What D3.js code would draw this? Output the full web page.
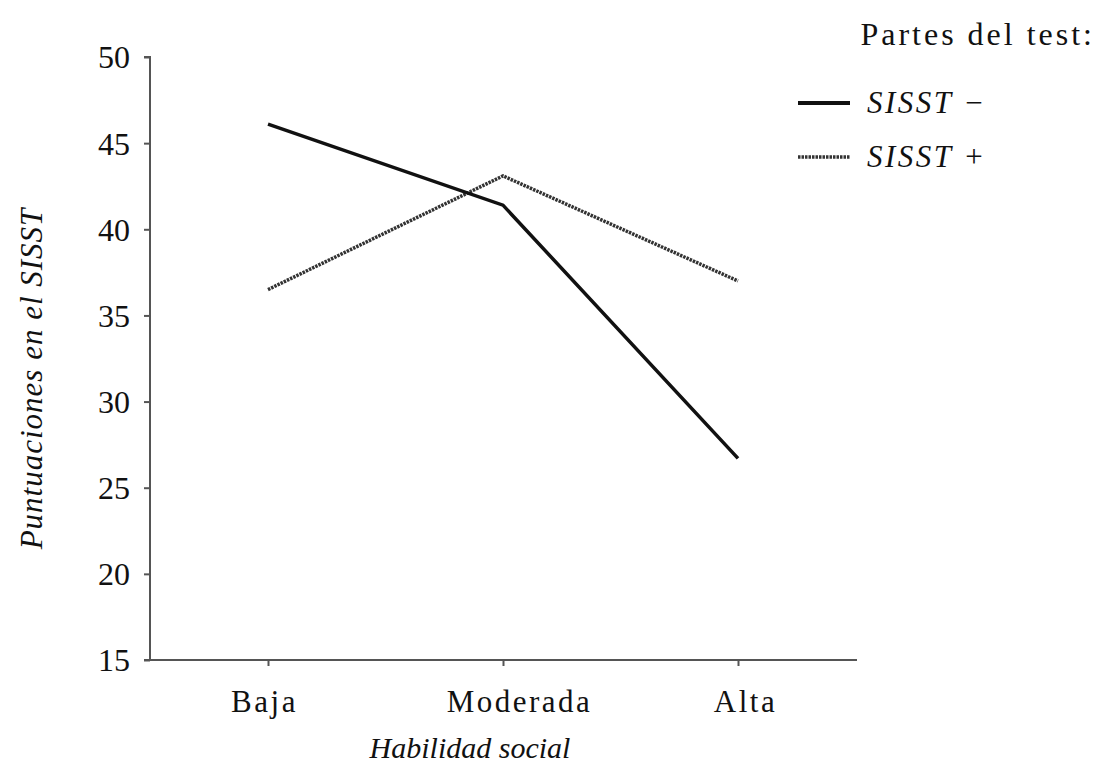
<!DOCTYPE html>
<html>
<head>
<meta charset="utf-8">
<script src="https://cdn.jsdelivr.net/npm/d3@7"></script>
<style>
  body { margin: 0; background: #fff; }
  svg text { font-family: "Liberation Serif", "DejaVu Serif", serif; fill: #111; }
</style>
</head>
<body>
<svg id="chart" width="1098" height="769"></svg>
<script>
// categories and values
const categories = ["Baja", "Moderada", "Alta"];
const sisstMinus = [46.1, 41.4, 26.7];
const sisstPlus = [36.5, 43.1, 37.0];
const yTicks = [15, 20, 25, 30, 35, 40, 45, 50];
const seriesNames = ["SISST \u2212", "SISST +"];

const svg = d3.select("#chart");

// plot box
const x0 = 150, x1 = 857, yTop = 57, yBottom = 660;

const x = d3.scalePoint().domain(categories).range([268, 738]);
const y = d3.scaleLinear().domain([15, 50]).range([yBottom, yTop]);

// y axis
const yAxis = svg.append("g").attr("transform", `translate(${x0},0)`)
  .call(d3.axisLeft(y).tickValues(yTicks).tickSize(6).tickPadding(14));
yAxis.select(".domain").attr("stroke", "#555").attr("stroke-width", 2)
  .attr("d", `M-6,${yTop}H0V${yBottom}H-6`);
yAxis.selectAll(".tick line").attr("stroke", "#555").attr("stroke-width", 2);
yAxis.selectAll(".tick text").style("font-size", "32px").attr("dy", "0.34em");

// x axis (labels in the original sit a little off their ticks)
const labelShift = { Baja: -4, Moderada: 16, Alta: 7 };
const xAxis = svg.append("g").attr("transform", `translate(0,${yBottom})`)
  .call(d3.axisBottom(x).tickSize(6).tickPadding(24));
xAxis.select(".domain").attr("stroke", "#555").attr("stroke-width", 2)
  .attr("d", `M${x0},0H${x1}`);
xAxis.selectAll(".tick line").attr("stroke", "#555").attr("stroke-width", 2);
xAxis.selectAll(".tick text")
  .attr("dx", d => labelShift[d])
  .style("font-size", "31px").style("letter-spacing", "2.5px");

// axis titles
svg.append("text")
  .attr("transform", `translate(42,${(yTop + yBottom) / 2 + 20}) rotate(-90)`)
  .attr("text-anchor", "middle")
  .style("font-size", "31px").style("font-style", "italic").style("letter-spacing", "1px")
  .text("Puntuaciones en el SISST");

svg.append("text")
  .attr("x", 470).attr("y", 758)
  .attr("text-anchor", "middle")
  .style("font-size", "30px").style("font-style", "italic")
  .text("Habilidad social");

// lines
const line = d3.line().x((d, i) => x(categories[i])).y(d => y(d));

svg.append("path").datum(sisstPlus)
  .attr("d", line).attr("fill", "none")
  .attr("stroke", "#333").attr("stroke-width", 3.5)
  .attr("stroke-dasharray", "2.5,1");

svg.append("path").datum(sisstMinus)
  .attr("d", line).attr("fill", "none")
  .attr("stroke", "#111").attr("stroke-width", 3.5);

// legend
svg.append("text")
  .attr("x", 1095).attr("y", 45)
  .attr("text-anchor", "end")
  .style("font-size", "32px").style("letter-spacing", "3px")
  .text("Partes del test:");

const legend = svg.append("g");
const legendRows = [
  { name: seriesNames[0], y: 103, stroke: "#111", width: 4, dash: null },
  { name: seriesNames[1], y: 157, stroke: "#333", width: 3.5, dash: "2.5,1" }
];
legendRows.forEach(r => {
  legend.append("line")
    .attr("x1", 798).attr("x2", 850).attr("y1", r.y).attr("y2", r.y)
    .attr("stroke", r.stroke).attr("stroke-width", r.width)
    .attr("stroke-dasharray", r.dash);
  legend.append("text")
    .attr("x", 867).attr("y", r.y + 10)
    .style("font-size", "31px").style("font-style", "italic").style("letter-spacing", "2.5px")
    .text(r.name);
});
</script>
</body>
</html>
